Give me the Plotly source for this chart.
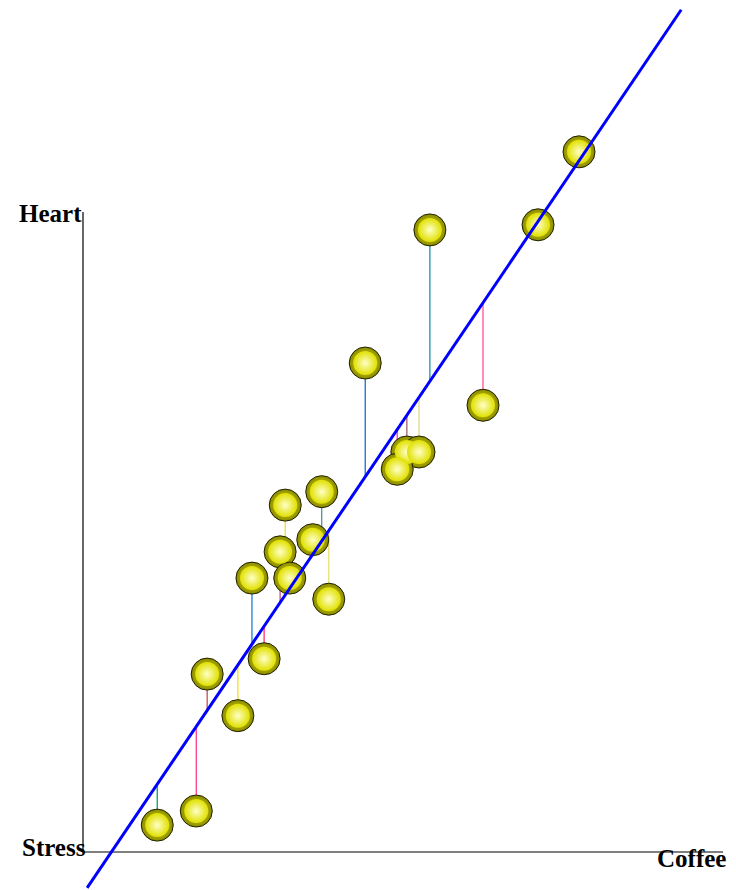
import plotly.graph_objects as go

# observations (Coffee -> Heart), listed back-to-front
coffee = [1.16, 1.77, 1.94, 2.42, 2.64, 2.83, 3.08, 3.16, 3.59, 3.23, 3.73, 3.84,
          4.41, 5.06, 5.25, 4.91, 5.42, 6.25, 7.11, 7.75]
heart = [0.42, 0.64, 2.78, 2.13, 4.28, 3.02, 4.69, 5.42, 4.88, 4.28, 5.63, 3.95,
         7.64, 6.25, 6.25, 5.98, 9.72, 6.98, 9.80, 10.94]
resid_colors = ["#00a070", "#ff3c8c", "#c05050", "#f0e020", "#1a80d0", "#ff3070",
                "#c05080", "#f0e020", "#c06070", "#ff4050", "#5090a0", "#e8e070",
                "#1070d0", "#a06070", "#e0d890", "#ff30d0", "#1a90b0", "#ff5098",
                "#20a070", "#20a070"]

# fitted line Heart = a + b * Coffee
intercept = -0.655
slope = 1.478
fit_heart_span = [-0.56, 13.16]

axis_len = 10.0
labels = {"x": "Coffee", "y": "Heart", "z": "Stress"}

fig = go.Figure()

# residuals
for cx, hy, col in zip(coffee, heart, resid_colors):
    fit = intercept + slope * cx
    fig.add_trace(go.Scatter(x=[cx, cx], y=[hy, fit], mode="lines",
                             line=dict(color=col, width=1.3), hoverinfo="skip"))

# axes
fig.add_trace(go.Scatter(x=[0, axis_len], y=[0, 0], mode="lines",
                         line=dict(color="black", width=1.2), hoverinfo="skip"))
fig.add_trace(go.Scatter(x=[0, 0], y=[0, axis_len], mode="lines",
                         line=dict(color="black", width=1.2), hoverinfo="skip"))

# spheres: dark rim + bright core
fig.add_trace(go.Scatter(
    x=coffee, y=heart, mode="markers",
    marker=dict(size=32, color="#8a8a00",
                gradient=dict(type="radial", color="#eeee00"),
                line=dict(color="#202000", width=1)),
    hoverinfo="skip"))
fig.add_trace(go.Scatter(
    x=coffee, y=heart, mode="markers",
    marker=dict(size=24, color="#e0e000",
                gradient=dict(type="radial", color="#ffffc8"),
                line=dict(width=0)),
    hoverinfo="skip"))

# regression line
fx = [(h - intercept) / slope for h in fit_heart_span]
fig.add_trace(go.Scatter(x=fx, y=fit_heart_span, mode="lines",
                         line=dict(color="#0000ff", width=3), hoverinfo="skip"))

lab_font = dict(family="Liberation Serif", size=25, color="black")
fig.add_annotation(x=0.02, y=(852 - 213) / 64, text="<b>" + labels["y"] + "</b>",
                   showarrow=False, xanchor="right", yanchor="middle", font=lab_font)
fig.add_annotation(x=0.08, y=(852 - 847) / 64, text="<b>" + labels["z"] + "</b>",
                   showarrow=False, xanchor="right", yanchor="middle", font=lab_font)
fig.add_annotation(x=(655 - 83) / 64, y=(852 - 858) / 64, text="<b>" + labels["x"] + "</b>",
                   showarrow=False, xanchor="left", yanchor="middle", font=lab_font)

# page body adds an 8px offset, so the figure is 8px smaller and ranges start there
fig.update_layout(
    width=728, height=882, showlegend=False,
    margin=dict(l=0, r=0, t=0, b=0),
    paper_bgcolor="white", plot_bgcolor="white",
    xaxis=dict(range=[-75 / 64, 653 / 64], visible=False),
    yaxis=dict(range=[-38 / 64, 844 / 64], visible=False),
)

fig.write_html("out.html")
